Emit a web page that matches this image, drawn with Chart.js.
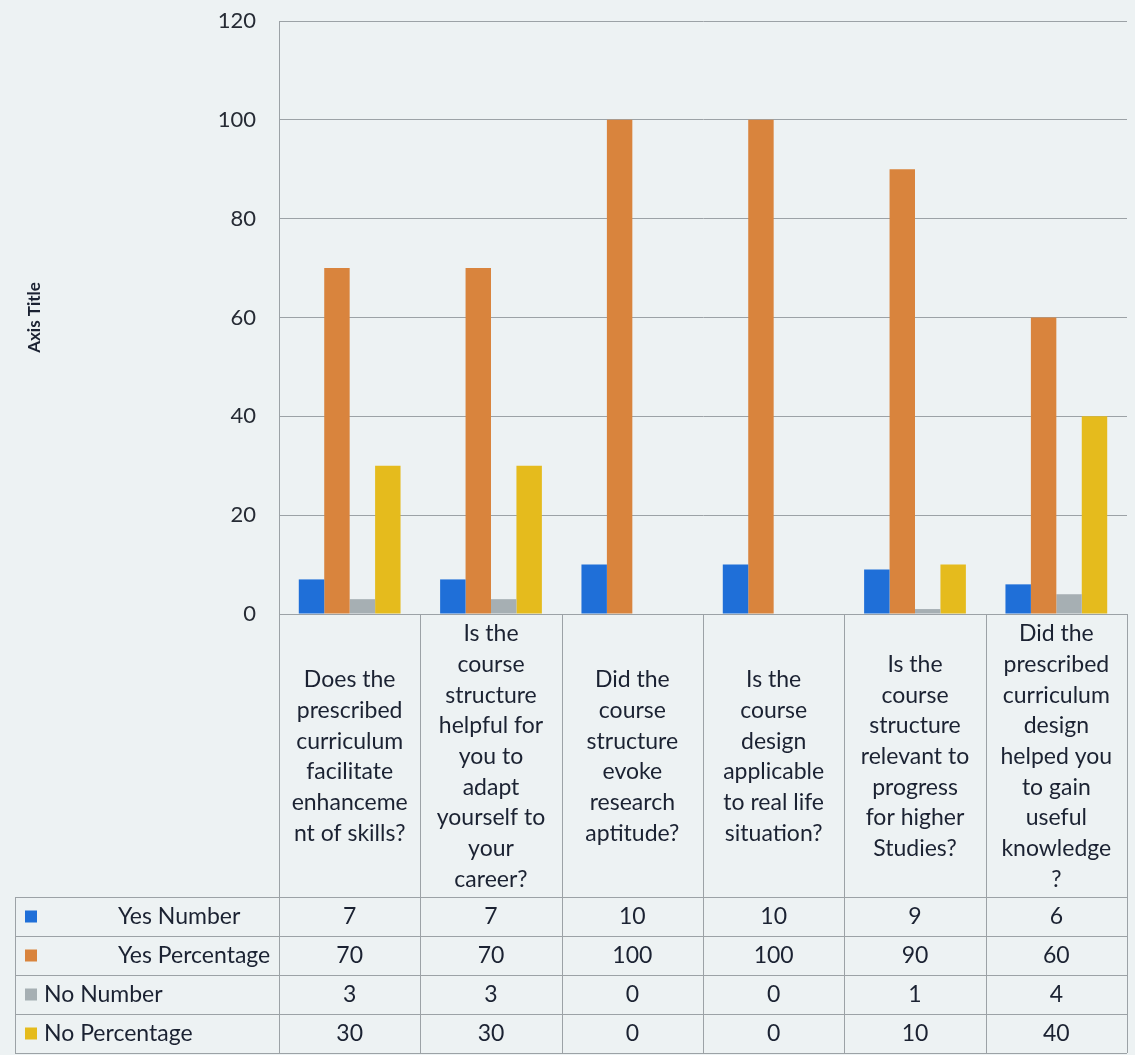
<!DOCTYPE html>
<html>
<head>
<meta charset="utf-8">
<script src="https://cdn.jsdelivr.net/npm/chart.js@4.4.0/dist/chart.umd.min.js"></script>
<style>
  html, body { margin: 0; padding: 0; background: #edf2f3; }
  #wrap { width: 1135px; height: 1055px; position: relative; }
</style>
</head>
<body>
<div id="wrap"><canvas id="c"></canvas></div>
<script>
// ---- Data ----
const categories = [
  ["Does the", "prescribed", "curriculum", "facilitate", "enhanceme", "nt of skills?"],
  ["Is the", "course", "structure", "helpful for", "you to", "adapt", "yourself to", "your", "career?"],
  ["Did the", "course", "structure", "evoke", "research", "aptitude?"],
  ["Is the", "course", "design", "applicable", "to real life", "situation?"],
  ["Is the", "course", "structure", "relevant to", "progress", "for higher", "Studies?"],
  ["Did the", "prescribed", "curriculum", "design", "helped you", "to gain", "useful", "knowledge", "?"]
];
const seriesNames = ["Yes Number", "Yes Percentage", "No Number", "No Percentage"];
const yesNumber = [7, 7, 10, 10, 9, 6];
const yesPercentage = [70, 70, 100, 100, 90, 60];
const noNumber = [3, 3, 0, 0, 1, 4];
const noPercentage = [30, 30, 0, 0, 10, 40];
const seriesValues = [yesNumber, yesPercentage, noNumber, noPercentage];
const seriesColors = ["#1f6fd8", "#d9843d", "#a6afb3", "#e5bb1d"];
const yTicks = { min: 0, max: 120, step: 20 };
const axisTitle = "Axis Title";

// ---- Styles ----
const FONT = "Lato, 'Open Sans', sans-serif";
const TEXT = "#1b2232";
const LINE = "#9ca2a6";

const tablePlugin = {
  id: "dataTable",
  afterDraw(chart) {
    const ctx = chart.ctx;
    const x = chart.scales.x;
    const a = chart.chartArea;
    const n = categories.length;
    const colW = (a.right - a.left) / n;
    const headerBottom = 897;
    const rowH = 39;
    const tableBottom = headerBottom + rowH * seriesNames.length;
    const tableLeft = 15;

    ctx.save();
    ctx.strokeStyle = LINE;
    ctx.lineWidth = 1;
    ctx.beginPath();
    ctx.moveTo(a.left + 0.5, a.bottom); ctx.lineTo(a.left + 0.5, tableBottom);
    for (let i = 1; i <= n; i++) {
      const px = Math.round(a.left + i * colW) + 0.5;
      ctx.moveTo(px, a.bottom); ctx.lineTo(px, tableBottom);
    }
    ctx.moveTo(tableLeft + 0.5, headerBottom); ctx.lineTo(tableLeft + 0.5, tableBottom);
    for (let r = 0; r <= seriesNames.length; r++) {
      const py = Math.round(headerBottom + r * rowH) + 0.5;
      ctx.moveTo(tableLeft, py); ctx.lineTo(a.right, py);
    }
    ctx.stroke();

    ctx.fillStyle = TEXT;
    ctx.font = "23px " + FONT;
    ctx.textAlign = "center";
    ctx.textBaseline = "middle";
    const headerCenter = (a.bottom + headerBottom) / 2 + 1;
    const lh = 30.7;
    categories.forEach((lines, i) => {
      const cx = x.getPixelForValue(i);
      const y0 = headerCenter - (lines.length - 1) * lh / 2;
      lines.forEach((t, k) => ctx.fillText(t, cx, y0 + k * lh));
    });

    const labelX = [118, 118, 44, 44];
    seriesNames.forEach((name, r) => {
      const cy = headerBottom + r * rowH + rowH / 2;
      ctx.fillStyle = seriesColors[r];
      ctx.fillRect(25, cy - 6, 12, 12);
      ctx.fillStyle = TEXT;
      ctx.textAlign = "left";
      ctx.fillText(name, labelX[r], cy);
      ctx.textAlign = "center";
      seriesValues[r].forEach((v, i) => {
        ctx.fillText(String(v), x.getPixelForValue(i), cy);
      });
    });
    ctx.restore();
  }
};

new Chart(document.getElementById("c"), {
  type: "bar",
  data: {
    labels: categories,
    datasets: seriesNames.map((name, i) => ({
      label: name,
      data: seriesValues[i],
      backgroundColor: seriesColors[i],
      borderWidth: 0,
      categoryPercentage: 0.72,
      barPercentage: 1.0
    }))
  },
  options: {
    responsive: true,
    maintainAspectRatio: false,
    animation: false,
    layout: { padding: { top: 21, bottom: 441, right: 8, left: 0 } },
    plugins: { legend: { display: false }, tooltip: { enabled: false } },
    scales: {
      x: { display: false },
      y: {
        min: yTicks.min, max: yTicks.max,
        ticks: { stepSize: yTicks.step, padding: 23, color: "#262b34", font: { family: FONT, size: 22 } },
        grid: { color: LINE, drawTicks: false },
        border: { display: true, color: LINE },
        title: { display: true, text: axisTitle, color: TEXT, padding: { top: 24, bottom: 0 }, font: { family: FONT, size: 17, weight: "bold" } },
        afterFit(scale) { scale.width = 279; scale.paddingTop = 0; scale.paddingBottom = 0; }
      }
    }
  },
  plugins: [tablePlugin]
});
</script>
</body>
</html>
